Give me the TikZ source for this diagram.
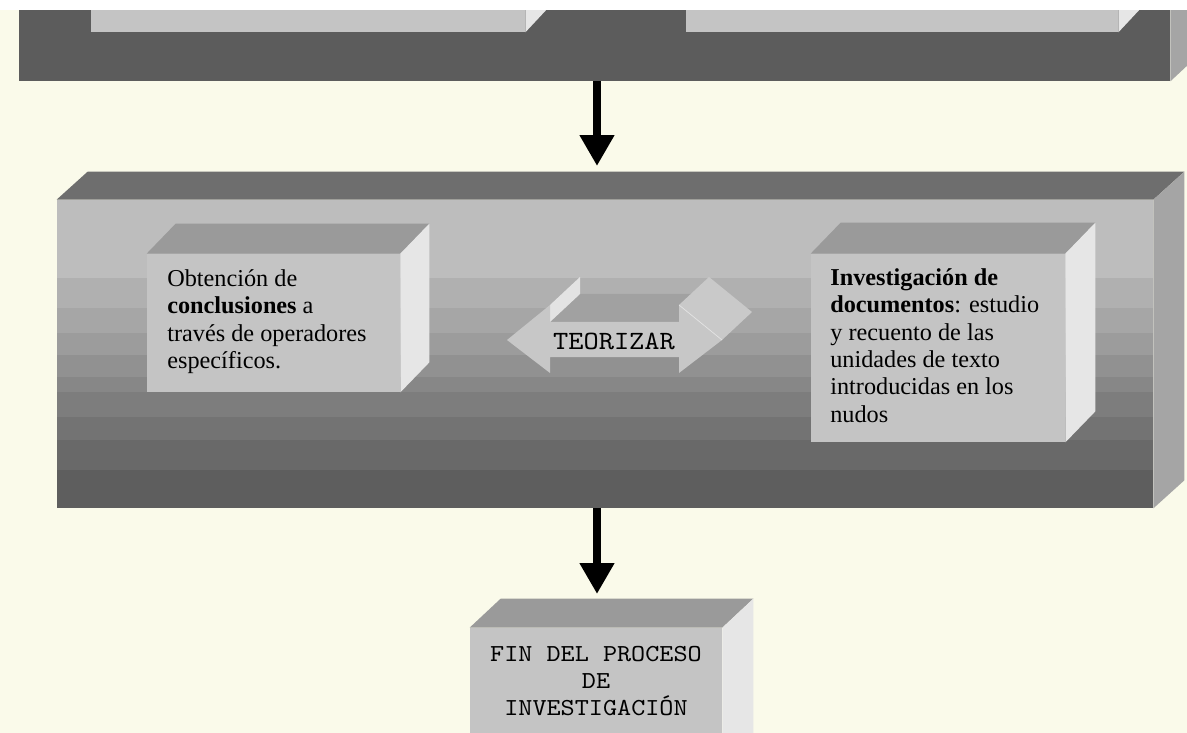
\documentclass[tikz,border=0pt]{standalone}
\usepackage{fontspec}
\setmainfont{Liberation Serif}
\newfontfamily\maquina{lmmono10-regular.otf}[FakeStretch=1.1]
\usepackage{xcolor}
\usepackage{tikz}
\usetikzlibrary{arrows.meta}
\usetikzlibrary{positioning}
\usetikzlibrary{fit}

\definecolor{fondo}{HTML}{FAFAEA}
\definecolor{frente}{HTML}{C4C4C4}
\definecolor{techo}{HTML}{9A9A9A}
\definecolor{lado}{HTML}{E6E6E6}
\definecolor{oscuro}{HTML}{5C5C5C}
\definecolor{ladoosc}{HTML}{A5A5A5}
\definecolor{techoosc}{HTML}{6E6E6E}

\tikzset{
  cara/.style={inner sep=0pt, fill=#1},
  texto/.style={font=\fontsize{13.8}{15.6}\selectfont, align=left, inner sep=0pt, anchor=north west},
  mono/.style={font=\maquina\fontsize{13.9}{15.3}\selectfont, align=center, inner sep=0pt},
  flecha/.style={line width=4.5pt, -{Triangle[width=18.7pt,length=17.6pt]}},
}

% techo y lado de una caja: nombre, dx, dy, color techo, color lado
\newcommand{\caja}[5]{%
  \fill[#4] (#1.north west) -- ++(#2,-#3) -- ([shift={(#2,-#3)}]#1.north east) -- (#1.north east) -- cycle;
  \fill[#5] (#1.north east) -- ++(#2,-#3) -- ([shift={(#2,-#3)}]#1.south east) -- (#1.south east) -- cycle;
}

\begin{document}
\begin{tikzpicture}[x=0.02cm, y=-0.02cm]
        \useasboundingbox (0,0) rectangle (1187,733);
        \clip (0,0) rectangle (1187,733);
        \fill[fondo] (0,0) rectangle (1187,733);

        % Caja de arriba
        \node[cara=oscuro, fit={(19,-40) (1170,81)}] (arriba) {};
        \caja{arriba}{30}{28}{oscuro}{ladoosc}
        \node[cara=frente, fit={(91,-40) (525,32)}] (arriba1) {};
        \caja{arriba1}{28}{30}{techo}{lado}
        \node[cara=frente, fit={(686,-40) (1118,32)}] (arriba2) {};
        \caja{arriba2}{28}{30}{techo}{lado}

        % Caja del medio (franjas)
        \foreach \ya/\yb/\g in {200/278/26, 278/308/31, 308/333/35, 333/355/39,
            355/377/43, 377/392/47, 392/417/51, 417/440/55, 440/470/59, 470/508/63}
            \fill[black!\g] (57,\ya) rectangle (1153,\yb);
        \node[inner sep=0pt, fit={(57,200) (1153,508)}] (medio) {};
        \caja{medio}{31}{28}{techoosc}{ladoosc}

        % Cajas de texto
        \node[cara=frente, fit={(147,254) (400,392)}] (izq) {};
        \caja{izq}{29}{30}{techo}{lado}
        \node[cara=frente, fit={(811,254) (1065,442)}] (der) {};
        \caja{der}{30}{31}{techo}{lado}

        \node[texto] (concl) at (167,269) {Obtención de\\
            \textbf{conclusiones} a\\ través de operadores\\ específicos.};
        \node[texto] (invest) at (830,268) {\textbf{Investigación de}\\
            \textbf{documentos}: estudio\\ y recuento de las\\ unidades de texto\\
            introducidas en los\\ nudos};

        % Flecha doble TEORIZAR
        \fill[black!37] (550,322) -- (580,294) -- (709,294) -- (679,322) -- cycle;
        \fill[black!11] (550,305) -- (580,277) -- (580,294) -- (550,322) -- cycle;
        \fill[black!21] (679,305) -- (709,277) -- (752,312) -- (722,340) -- cycle;
        \fill[black!22] (507,340) -- (550,305) -- (550,322) -- (679,322) -- (679,305)
            -- (722,340) -- (679,373) -- (679,357) -- (550,357) -- (550,373) -- cycle;
        \draw[black!10, line width=0.4pt] (679,305) -- (722,340);
        \node[mono, font=\maquina\fontsize{15}{16}\selectfont] (teorizar) at (614,341) {TEORIZAR};

        % Caja final
        \node[cara=frente, fit={(470,628) (722,780)}] (fin) {};
        \caja{fin}{31}{29}{techo}{lado}
        \node[mono] (fintxt) at (596,681) {FIN DEL PROCESO\\DE\\INVESTIGACIÓN};

        % Flechas
        \coordinate (llega1) at (597,166);
        \draw[flecha] (llega1 |- arriba.south) -- (llega1);
        \coordinate (llega2) at (597,594);
        \draw[flecha] (llega2 |- medio.south) -- (llega2);

        % Borde blanco de arriba
        \fill[white] (0,0) rectangle (1187,10);
    \end{tikzpicture}
\end{document}
